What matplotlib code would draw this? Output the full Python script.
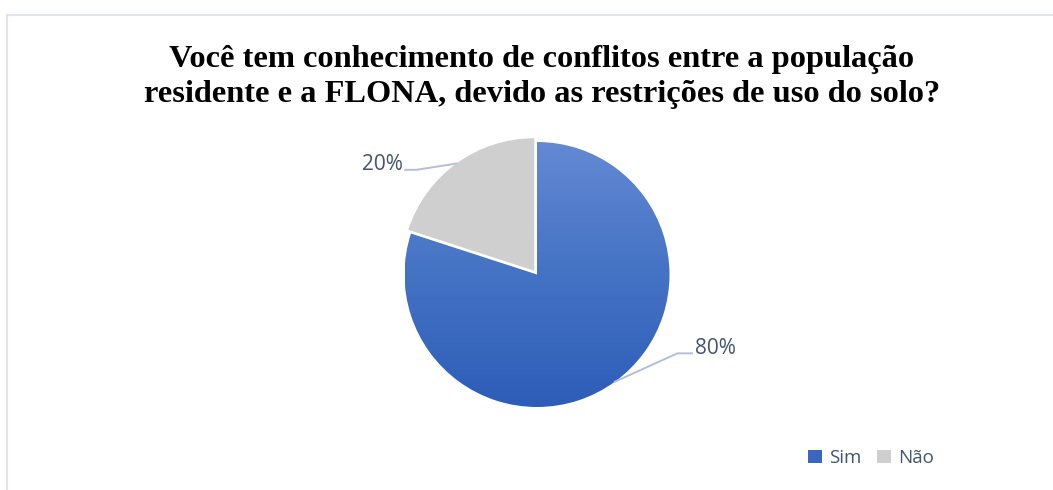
import numpy as np
import matplotlib
matplotlib.use('Agg')
import matplotlib.pyplot as plt
from matplotlib.colors import LinearSegmentedColormap
from matplotlib.patches import Rectangle

# chart data
categories = ['Sim', 'Não']
values = [80, 20]
pct_labels = ['80%', '20%']
title = ('Você tem conhecimento de conflitos entre a população\n'
         'residente e a FLONA, devido as restrições de uso do solo?')

colors = ['#4472c4', '#d0cfd0']
text_color = '#44546a'
leader_color = '#b4c0d2'

W, H = 1053, 490
fig = plt.figure(figsize=(W / 100, H / 100), dpi=100)
fig.patch.set_facecolor('white')

# light chart border (top and left visible)
fig.add_artist(Rectangle((7 / W, -0.1), 1.2, 1 - 15.5 / H + 0.1,
                         transform=fig.transFigure, fill=False,
                         edgecolor='#e1e4ea', linewidth=1.5))

fig.text(542 / W, 1 - 77 / H, title, ha='center', va='center',
         family='Liberation Serif', fontweight='bold', fontsize=23.3,
         linespacing=1.3, color='black')

# pie axes: centre (537, 274.5) px, radius 132.5 px, limits +-1.5
cx, cy, r = 537, 274.5, 132.5
side = 3 * r
ax = fig.add_axes([(cx - side / 2) / W, (H - cy - side / 2) / H, side / W, side / H])
wedges, _ = ax.pie(values, colors=colors, startangle=90, counterclock=False,
                   explode=[0, 0.035], radius=1.0,
                   wedgeprops=dict(linewidth=0))
ax.set_xlim(-1.5, 1.5)
ax.set_ylim(-1.5, 1.5)
ax.set_aspect('equal')
ax.axis('off')

# vertical gradient on the "Sim" slice
sim = wedges[0]
sim.set_facecolor('none')
cmap = LinearSegmentedColormap.from_list('g', ['#2d5db8', '#4472c4', '#6389d3'])
grad = np.linspace(0, 1, 256).reshape(-1, 1)
img = ax.imshow(grad, cmap=cmap, extent=(-1, 1, -1, 1), origin='lower',
                aspect='auto', zorder=0.5)
img.set_clip_path(sim)

# data labels with leader lines
label_pos = {'80%': (1.19, -0.555, 'left', 1.06), '20%': (-1.015, 0.83, 'right', -0.91)}
for w, lab in zip(wedges, pct_labels):
    mid = np.deg2rad((w.theta1 + w.theta2) / 2)
    x0, y0 = w.center[0] + np.cos(mid), w.center[1] + np.sin(mid)
    tx, ty, ha, ex = label_pos[lab]
    ly = ty - 0.04
    ax.plot([x0, ex, tx + (-0.02 if ha == 'left' else 0.02)], [y0, ly, ly],
            color=leader_color, linewidth=1.4, zorder=1, clip_on=False)
    ax.text(tx, ty, lab, ha=ha, va='center', fontsize=15,
            family='Open Sans', color=text_color)

# legend
handles = [Rectangle((0, 0), 1, 1, facecolor=c) for c in ['#3a66bf', colors[1]]]
fig.legend(handles, categories, loc='center', bbox_to_anchor=(871 / W, 1 - 458 / H),
           ncol=2, frameon=False, handlelength=0.75, handleheight=0.75,
           handletextpad=0.35, columnspacing=0.85,
           prop=dict(family='Open Sans', size=13.5), labelcolor=text_color)

fig.savefig('out.png', dpi=100, facecolor='white')
